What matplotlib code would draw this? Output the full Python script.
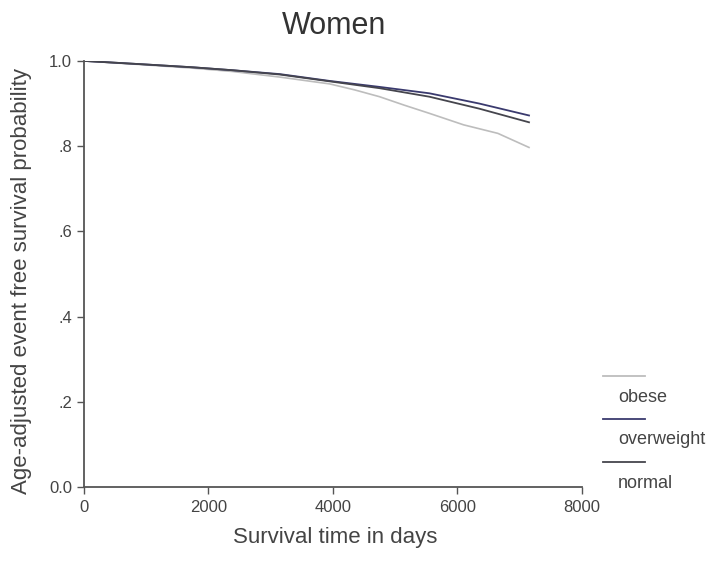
import matplotlib.pyplot as plt
from matplotlib.lines import Line2D

plt.rcParams['font.family'] = ['Liberation Sans', 'DejaVu Sans']

# Estimated survival curves
days_obese = [0, 950, 1750, 2400, 3150, 3950, 4350, 4750, 5150, 5550, 6100, 6650, 7150]
surv_obese = [1.0, 0.991, 0.983, 0.975, 0.962, 0.946, 0.932, 0.916, 0.896, 0.877, 0.850, 0.830, 0.797]

days_over = [0, 950, 1750, 2400, 3150, 3950, 4750, 5550, 6350, 7150]
surv_over = [1.0, 0.992, 0.985, 0.978, 0.969, 0.953, 0.939, 0.924, 0.900, 0.872]

days_norm = [0, 950, 1750, 2400, 3150, 3950, 4750, 5550, 6350, 7150]
surv_norm = [1.0, 0.992, 0.985, 0.978, 0.968, 0.952, 0.936, 0.916, 0.888, 0.856]

labels = ['obese', 'overweight', 'normal']
colors = ['#bdbdbd', '#3a3a6e', '#45454d']
text_col = '#444444'

fig = plt.figure(figsize=(7.22, 5.8), dpi=100)
ax = fig.add_axes([0.116, 0.160, 0.690, 0.735])

ax.plot(days_obese, surv_obese, color=colors[0], lw=1.2)
ax.plot(days_over, surv_over, color=colors[1], lw=1.3)
ax.plot(days_norm, surv_norm, color=colors[2], lw=1.3)

ax.set_xlim(0, 8000)
ax.set_ylim(0, 1.0)
ax.set_xticks([0, 2000, 4000, 6000, 8000])
ax.set_yticks([0, 0.2, 0.4, 0.6, 0.8, 1.0])
ax.set_yticklabels(['0.0', '.2', '.4', '.6', '.8', '1.0'])
for s in ['top', 'right']:
    ax.spines[s].set_visible(False)
for s in ['left', 'bottom']:
    ax.spines[s].set_color('#555555')
    ax.spines[s].set_linewidth(1.3)
ax.tick_params(colors='#555555', labelcolor=text_col, labelsize=12, length=5, width=1)
ax.tick_params(axis='x', pad=4)

fig.text(334 / 722, 1 - 26 / 580, 'Women', ha='center', va='center',
         fontsize=22, color='#333333')
fig.text(335 / 722, 1 - 537 / 580, 'Survival time in days', ha='center',
         va='center', fontsize=16, color=text_col)
fig.text(22 / 722, 1 - 281 / 580, 'Age-adjusted event free survival probability',
         rotation=90, ha='center', va='center', fontsize=16, color=text_col)

# legend: line above each label
line_y = [376, 419, 462]
for lab, c, y in zip(labels, colors, line_y):
    yf = 1 - y / 580
    fig.add_artist(Line2D([603 / 722, 645 / 722], [yf, yf], color=c, lw=1.3))
    fig.text(618 / 722, 1 - (y + 21) / 580, lab, ha='left', va='center',
             fontsize=13, color=text_col)

fig.savefig('out.png', dpi=100)
